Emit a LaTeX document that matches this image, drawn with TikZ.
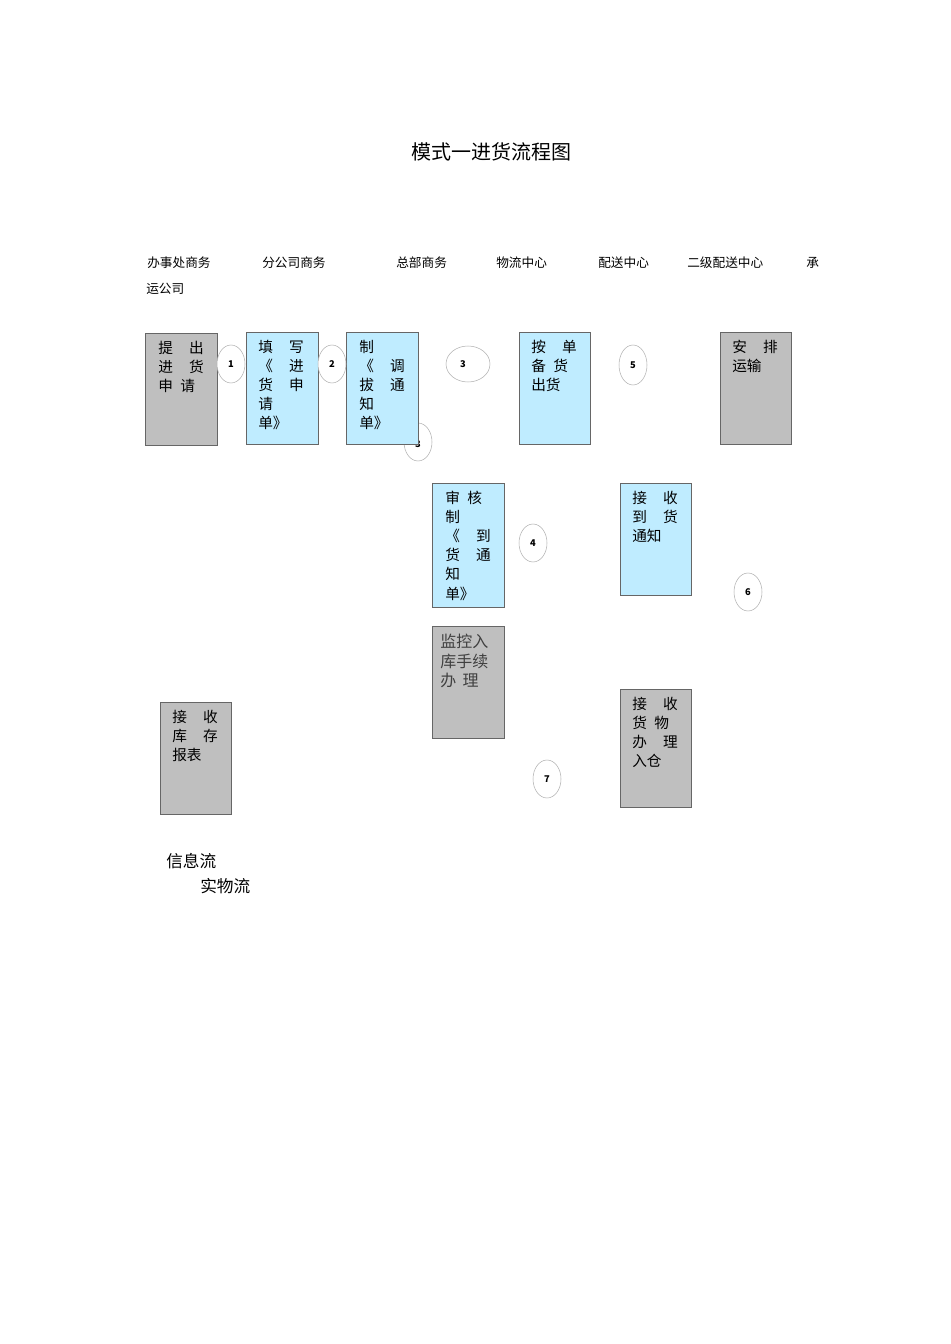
\documentclass[tikz,border=0pt]{standalone}
\usepackage{fontspec}
\setmainfont{Noto Sans CJK SC}
\newcommand{\gp}{\hspace{1.1em}}
\begin{document}
\begin{tikzpicture}[x=0.75pt,y=-0.75pt,
  gbox/.style={draw=gray!80!black,line width=0.4pt,fill=gray!50},
  bbox/.style={draw=gray!80!black,line width=0.4pt,fill=blue!30!cyan!25!white},
  btxt/.style={anchor=north west,inner sep=0,align=left,font=\fontsize{11pt}{14.3pt}\selectfont},
  circ/.style={draw=gray!60,line width=0.4pt,fill=white,ellipse},
  hdr/.style={anchor=west,inner sep=0,font=\fontsize{9.5pt}{11pt}\selectfont},
  num/.style={font=\bfseries\fontsize{7pt}{8pt}\selectfont}]
\useasboundingbox (0,0) rectangle (950,1344);
\node (title) at (491,152) {\fontsize{15pt}{18pt}\selectfont 模式一进货流程图};
\node[hdr] (h1) at (147,263) {办事处商务};
\node[hdr] (h2) at (262,263) {分公司商务};
\node[hdr] (h3) at (396,263) {总部商务};
\node[hdr] (h4) at (496,263) {物流中心};
\node[hdr] (h5) at (598,263) {配送中心};
\node[hdr] (h6) at (687,263) {二级配送中心};
\node[hdr] (h7) at (806,263) {承};
\node[hdr] (h8) at (146,289) {运公司};
% hidden circle behind C
\draw[draw=gray!60,line width=0.4pt,fill=white] (418,442) ellipse (14 and 19);
\node[num] (n3b) at (418,444) {3};
\draw[gbox] (145,333) rectangle (217,445);
\node[btxt] (ta) at (158,341) {提\gp 出\\进\gp 货\\申\hspace{0.5em}请};
\draw[bbox] (246,332) rectangle (318,444);
\node[btxt] (tb) at (258,340) {填\gp 写\\《\gp 进\\货\gp 申\\请\\单》};
\draw[bbox] (346,332) rectangle (418,444);
\node[btxt] (tc) at (359,340) {制\\《\gp 调\\拔\gp 通\\知\\单》};
\draw[bbox] (519,332) rectangle (590,444);
\node[btxt] (td) at (531,340) {按\gp 单\\备\hspace{0.5em}货\\出货};
\draw[gbox] (720,332) rectangle (791,444);
\node[btxt] (te) at (732,340) {安\gp 排\\运输};
\draw[bbox] (432,483) rectangle (504,607);
\node[btxt] (tf) at (445,491) {审\hspace{0.5em}核\\制\\《\gp 到\\货\gp 通\\知\\单》};
\draw[bbox] (620,483) rectangle (691,595);
\node[btxt] (tg) at (632,491) {接\gp 收\\到\gp 货\\通知};
\draw[gbox] (432,626) rectangle (504,738);
\node[btxt,text=black!75,font=\fontsize{12pt}{14.5pt}\selectfont] (th) at (440,634) {监控入\\库手续\\办\hspace{0.4em}理};
\draw[gbox] (160,702) rectangle (231,814);
\node[btxt] (ti) at (172,710) {接\gp 收\\库\gp 存\\报表};
\draw[gbox] (620,689) rectangle (691,807);
\node[btxt] (tj) at (632,697) {接\gp 收\\货\hspace{0.5em}物\\办\gp 理\\入仓};
\draw[draw=gray!60,line width=0.4pt,fill=white] (231,364) ellipse (14 and 19);
\node[num] (n1) at (231,364) {1};
\draw[draw=gray!60,line width=0.4pt,fill=white] (332,364) ellipse (14 and 19);
\node[num] (n2) at (332,364) {2};
\draw[draw=gray!60,line width=0.4pt,fill=white] (468,364) ellipse (22 and 18);
\node[num] (n3) at (463,364) {3};
\draw[draw=gray!60,line width=0.4pt,fill=white] (633,365) ellipse (14 and 20);
\node[num] (n5) at (633,365) {5};
\draw[draw=gray!60,line width=0.4pt,fill=white] (533,543) ellipse (14 and 19);
\node[num] (n4) at (533,543) {4};
\draw[draw=gray!60,line width=0.4pt,fill=white] (748,592) ellipse (14 and 19);
\node[num] (n6) at (748,592) {6};
\draw[draw=gray!60,line width=0.4pt,fill=white] (547,779) ellipse (14 and 19);
\node[num] (n7) at (547,779) {7};
\node[hdr,font=\fontsize{12.5pt}{14pt}\selectfont] (l1) at (166,861) {信息流};
\node[hdr,font=\fontsize{12.5pt}{14pt}\selectfont] (l2) at (200,886) {实物流};
\end{tikzpicture}
\end{document}
